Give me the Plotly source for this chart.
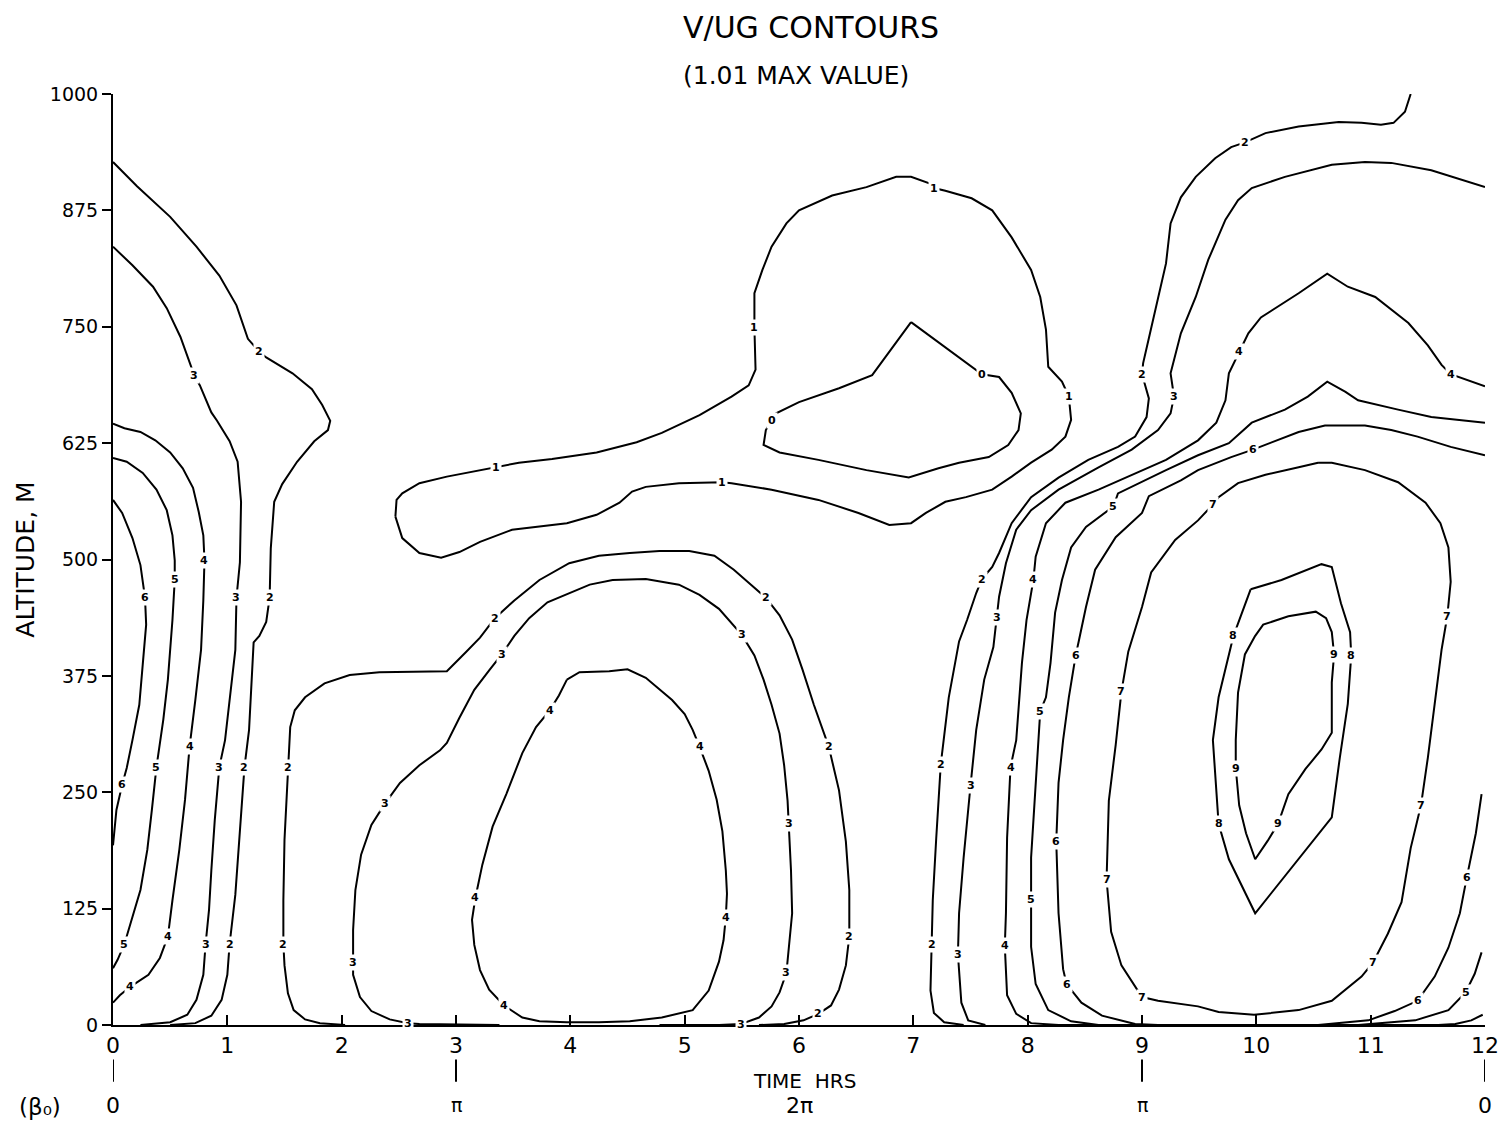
import plotly.graph_objects as go

# ---------------------------------------------------------------
# V/UG contour lines: time (hours) vs altitude (m).
# Each contour: hours list, altitude list, vertex indices carrying a level label.
# ---------------------------------------------------------------

# level 2, left band
c2_left_hr = [0.00, 0.21, 0.50, 0.73, 0.93, 1.08, 1.18, 1.28, 1.34, 1.57, 1.74, 1.83, 1.90, 1.88,
              1.76, 1.61, 1.48, 1.41, 1.38, 1.37, 1.34, 1.28, 1.23, 1.21, 1.19, 1.15, 1.11, 1.07,
              1.02, 1.00, 0.95, 0.86, 0.72, 0.50]
c2_left_alt = [927, 901, 868, 836, 805, 773, 737, 723, 717, 700, 683, 666, 649, 639,
               627, 605, 581, 562, 512, 459, 433, 418, 411, 367, 317, 277, 209, 140,
               87, 54, 27, 10, 2, 0]
c2_left_lab = [7, 19, 25, 28]

# level 3, left band
c3_left_hr = [0.00, 0.17, 0.35, 0.47, 0.59, 0.69, 0.71, 0.76, 0.86, 0.91, 1.02, 1.09, 1.12, 1.11,
              1.08, 1.07, 1.02, 0.98, 0.93, 0.89, 0.86, 0.84, 0.81, 0.79, 0.73, 0.65, 0.50, 0.24]
c3_left_alt = [836, 816, 793, 770, 739, 705, 698, 687, 658, 649, 627, 605, 562, 497,
               459, 403, 349, 306, 277, 220, 166, 124, 87, 54, 27, 11, 3, 0]
c3_left_lab = [6, 14, 18, 22]

# level 4, left band
c4_left_hr = [0.00, 0.10, 0.24, 0.37, 0.50, 0.61, 0.70, 0.75, 0.79, 0.80, 0.79, 0.77, 0.72, 0.67,
              0.63, 0.58, 0.52, 0.48, 0.41, 0.31, 0.15, 0.06, 0.00]
c4_left_alt = [646, 641, 637, 628, 615, 598, 577, 551, 526, 499, 456, 403, 349, 299,
               242, 188, 134, 95, 72, 54, 41, 32, 24]
c4_left_lab = [9, 13, 17, 20]

# level 5, left band
c5_left_hr = [0.00, 0.12, 0.26, 0.38, 0.47, 0.52, 0.54, 0.54, 0.52, 0.48, 0.44, 0.38, 0.34, 0.30,
              0.24, 0.17, 0.10, 0.04, 0.00]
c5_left_alt = [609, 605, 593, 575, 553, 526, 499, 478, 435, 371, 328, 277, 231, 188,
               145, 115, 87, 70, 61]
c5_left_lab = [7, 11, 16]

# level 6, left bulge
c6_left_hr = [0.00, 0.08, 0.17, 0.24, 0.28, 0.29, 0.26, 0.23, 0.17, 0.12, 0.08, 0.03, 0.00]
c6_left_alt = [564, 550, 523, 494, 459, 430, 387, 344, 306, 276, 258, 231, 193]
c6_left_lab = [4, 10]

# level 2, middle column and arch
c2_mid_hr = [2.03, 1.81, 1.68, 1.58, 1.53, 1.50, 1.49, 1.49, 1.50, 1.52, 1.53, 1.55, 1.59, 1.68,
             1.85, 2.07, 2.33, 2.68, 2.92, 3.09, 3.21, 3.34, 3.51, 3.73, 3.99, 4.25, 4.52, 4.78,
             5.04, 5.26, 5.43, 5.58, 5.71, 5.83, 5.94, 6.03, 6.13, 6.26, 6.35, 6.41, 6.44, 6.44,
             6.41, 6.35, 6.28, 6.17, 6.04, 5.87, 5.65]
c2_mid_alt = [0, 2, 6, 16, 34, 64, 87, 134, 199, 252, 277, 320, 338, 352,
              367, 376, 379, 380, 380, 401, 416, 437, 456, 478, 496, 504, 507, 509,
              509, 504, 489, 473, 459, 440, 414, 382, 344, 299, 252, 197, 145, 95,
              64, 38, 21, 12, 5, 1, 0]
c2_mid_lab = [6, 10, 21, 32, 37, 41, 45]

# level 3, arch
c3_arch_hr = [3.38, 2.68, 2.58, 2.42, 2.26, 2.16, 2.10, 2.10, 2.10, 2.12, 2.17, 2.26, 2.38, 2.51,
              2.68, 2.86, 2.92, 3.03, 3.16, 3.29, 3.40, 3.51, 3.64, 3.80, 3.97, 4.17, 4.37, 4.66,
              4.95, 5.13, 5.30, 5.50, 5.61, 5.69, 5.76, 5.83, 5.87, 5.90, 5.91, 5.93, 5.94, 5.91,
              5.89, 5.83, 5.76, 5.65, 5.49, 5.30, 4.78]
c3_arch_alt = [0, 1, 2, 6, 15, 30, 54, 67, 102, 145, 183, 215, 238, 260,
               279, 295, 303, 330, 360, 381, 398, 418, 437, 454, 463, 473, 478, 479,
               473, 462, 447, 419, 397, 371, 344, 313, 279, 241, 216, 166, 120, 81,
               56, 35, 20, 8, 1, 0, 0]
c3_arch_lab = [2, 7, 12, 20, 31, 38, 42, 46]

# level 4, closed cell
c4_cell_hr = [3.97, 4.08, 4.34, 4.50, 4.66, 4.89, 5.00, 5.07, 5.13, 5.21, 5.28, 5.33, 5.36, 5.37,
              5.36, 5.34, 5.30, 5.21, 5.07, 4.80, 4.52, 4.25, 3.97, 3.73, 3.58, 3.42, 3.29, 3.21,
              3.16, 3.14, 3.17, 3.23, 3.32, 3.44, 3.58, 3.70, 3.82, 3.90, 3.97]
c4_cell_alt = [371, 379, 380, 382, 373, 349, 334, 317, 299, 273, 242, 208, 166, 141,
               116, 91, 68, 37, 16, 8, 4, 3, 3, 4, 8, 21, 38, 59,
               86, 113, 137, 172, 213, 248, 292, 320, 338, 354, 371]
c4_cell_lab = [8, 14, 25, 30, 36]

# level 1, closed tongue
c1_cell_hr = [2.47, 2.48, 2.53, 2.68, 2.92, 3.21, 3.35, 3.55, 3.84, 4.23, 4.58, 4.80, 5.13, 5.41,
              5.56, 5.62, 5.61, 5.61, 5.68, 5.76, 5.89, 6.00, 6.29, 6.59, 6.85, 6.98, 7.14, 7.18,
              7.28, 7.51, 7.69, 7.86, 8.03, 8.11, 8.16, 8.18, 8.30, 8.36, 8.38, 8.33, 8.21, 8.03,
              7.86, 7.69, 7.46, 7.28, 7.11, 6.98, 6.79, 6.52, 6.17, 5.76, 5.41, 5.33, 4.95, 4.66,
              4.54, 4.43, 4.23, 3.97, 3.49, 3.21, 3.03, 2.87, 2.68, 2.53, 2.47]
c1_cell_alt = [546, 564, 571, 582, 589, 596, 599, 604, 608, 615, 626, 636, 655, 675,
               687, 704, 749, 786, 811, 836, 861, 875, 891, 900, 911, 911, 904, 899,
               896, 888, 875, 846, 811, 782, 747, 707, 691, 675, 650, 632, 618, 604,
               589, 575, 567, 562, 550, 539, 537, 550, 564, 575, 582, 583, 582, 578,
               573, 561, 548, 539, 532, 519, 508, 502, 507, 523, 546]
c1_cell_lab = [6, 16, 27, 37, 53]

# level 0, closed cell
c0_cell_hr = [6.98, 7.46, 7.60, 7.75, 7.86, 7.94, 7.92, 7.83, 7.66, 7.40, 7.22, 6.96, 6.59, 6.17,
              5.83, 5.69, 5.71, 5.76, 5.80, 6.00, 6.35, 6.64, 6.98]
c0_cell_alt = [755, 712, 699, 696, 679, 657, 639, 623, 610, 604, 598, 588, 596, 607,
               615, 623, 639, 649, 657, 669, 684, 698, 755]
c0_cell_lab = [2, 17]

# level 2, right band
c2_right_hr = [11.35, 11.30, 11.20, 11.09, 10.92, 10.72, 10.37, 10.08, 9.90, 9.78, 9.64, 9.47, 9.34,
               9.25, 9.21, 9.14, 9.07, 9.01, 9.00, 9.06, 9.04, 8.94, 8.79, 8.53, 8.27, 8.03, 7.86,
               7.75, 7.69, 7.60, 7.55, 7.47, 7.40, 7.31, 7.24, 7.20, 7.17, 7.16, 7.15, 7.18, 7.27,
               7.44]
c2_right_alt = [1000, 981, 969, 967, 969, 970, 965, 958, 948, 943, 931, 911, 889,
                861, 818, 782, 743, 711, 699, 673, 653, 632, 621, 607, 588, 567, 539,
                507, 492, 479, 464, 435, 412, 352, 280, 200, 134, 86, 37, 13, 3,
                0]
c2_right_lab = [8, 18, 29, 34, 37]

# level 3, right band
c3_right_hr = [12.00, 11.53, 11.18, 10.95, 10.66, 10.25, 9.96, 9.84, 9.73, 9.58, 9.47, 9.34, 9.25,
               9.28, 9.25, 9.14, 8.91, 8.62, 8.27, 8.03, 7.90, 7.81, 7.75, 7.73, 7.70, 7.62, 7.55,
               7.50, 7.44, 7.40, 7.39, 7.42, 7.48, 7.63]
c3_right_alt = [900, 918, 926, 927, 924, 911, 899, 886, 865, 822, 782, 743, 700,
                675, 657, 639, 618, 599, 575, 553, 532, 496, 460, 438, 406, 371, 317,
                257, 180, 120, 76, 24, 5, 0]
c3_right_lab = [13, 23, 27, 30]

# level 4, right band
c4_right_hr = [12.00, 11.70, 11.62, 11.50, 11.33, 11.04, 10.80, 10.62, 10.37, 10.04, 9.93, 9.85,
               9.76, 9.73, 9.65, 9.49, 9.21, 8.62, 8.33, 8.16, 8.07, 8.05, 7.99, 7.95, 7.90, 7.85,
               7.82, 7.81, 7.80, 7.82, 7.90, 8.03, 8.27, 11.59, 11.74, 11.88, 11.98]
c4_right_alt = [686, 699, 709, 730, 754, 782, 793, 807, 786, 760, 743, 723,
                700, 671, 647, 628, 607, 575, 561, 539, 503, 478, 435, 389, 306, 277,
                201, 120, 85, 32, 12, 2, 0, 0, 1, 5, 11]
c4_right_lab = [1, 11, 21, 25, 28]

# level 5, right band
c5_right_hr = [12.00, 11.53, 11.24, 10.89, 10.78, 10.62, 10.45, 10.25, 9.96, 9.87, 9.76, 9.49,
               9.21, 8.79, 8.75, 8.51, 8.38, 8.30, 8.24, 8.20, 8.16, 8.11, 8.07, 8.03, 8.03, 8.03,
               8.07, 8.18, 8.38, 8.62, 10.89, 11.39, 11.68, 11.83, 11.91, 11.97]
c5_right_alt = [647, 653, 661, 671, 680, 691, 675, 661, 647, 637, 625, 612,
                596, 571, 557, 535, 513, 478, 443, 389, 352, 337, 260, 180, 135, 84,
                44, 16, 4, 0, 0, 5, 16, 35, 55, 78]
c5_right_lab = [14, 21, 24, 33]

# level 6, right band
c6_right_hr = [12.00, 11.70, 11.41, 11.18, 10.95, 10.60, 10.37, 10.08, 9.97, 9.78, 9.49, 9.34,
               9.06, 9.00, 8.77, 8.59, 8.51, 8.45, 8.42, 8.36, 8.31, 8.27, 8.25, 8.27, 8.31, 8.34,
               8.47, 8.65, 8.94, 9.14, 10.54, 10.98, 11.21, 11.41, 11.56, 11.68, 11.78, 11.84,
               11.92, 11.97]
c6_right_alt = [612, 621, 632, 639, 644, 644, 637, 623, 618, 610, 596, 585,
                568, 550, 524, 489, 449, 414, 397, 352, 306, 260, 197, 120, 60, 44,
                24, 10, 1, 0, 0, 5, 15, 26, 52, 83, 120, 158,
                206, 248]
c6_right_lab = [8, 18, 22, 25, 33, 37]

# level 7, closed cell
c7_cell_hr = [10.54, 10.66, 10.95, 11.24, 11.48, 11.61, 11.68, 11.70, 11.67, 11.62, 11.56, 11.50,
              11.44, 11.35, 11.27, 11.15, 11.02, 10.92, 10.66, 10.37, 9.98, 9.67, 9.49, 9.14,
              9.00, 8.82, 8.73, 8.69, 8.71, 8.77, 8.82, 8.88, 9.00, 9.08, 9.29, 9.49, 9.62,
              9.67, 9.84, 10.08, 10.37, 10.54]
c7_cell_alt = [604, 604, 596, 583, 561, 539, 513, 476, 439, 403, 345, 287,
               236, 190, 132, 98, 67, 52, 26, 16, 11, 14, 20, 26,
               30, 64, 100, 156, 241, 301, 358, 401, 449, 486, 521, 542, 559,
               567, 582, 591, 599, 604]
c7_cell_lab = [8, 12, 16, 24, 27, 30, 36]

# level 8, closed cell
c8_cell_hr = [9.95, 10.22, 10.57, 10.66, 10.74, 10.82, 10.83, 10.80, 10.73, 10.66, 9.99, 9.76,
              9.67, 9.64, 9.62, 9.67, 9.80, 9.95]
c8_cell_alt = [468, 478, 495, 492, 453, 422, 397, 345, 287, 223, 120, 178,
               216, 267, 306, 352, 418, 468]
c8_cell_lab = [6, 12, 16]

# level 9, closed cell (maximum)
c9_cell_hr = [9.99, 10.06, 10.28, 10.52, 10.61, 10.66, 10.68, 10.66, 10.66, 10.57, 10.43, 10.28,
              10.19, 10.10, 9.99, 9.91, 9.85, 9.82, 9.82, 9.84, 9.90, 9.99]
c9_cell_alt = [418, 430, 439, 444, 437, 422, 398, 368, 314, 296, 275, 248,
               216, 198, 178, 206, 236, 276, 306, 357, 398, 418]
c9_cell_lab = [6, 12, 17]

# axis ticks
HOUR_TICKS = list(range(13))
ALT_TICKS = [0, 125, 250, 375, 500, 625, 750, 875, 1000]

# solar phase angle row under the time axis
BETA_HOURS = [0, 3, 6, 9, 12]
BETA_TEXT = ["0", "π", "2π", "π", "0"]
BETA_BAR = [True, True, False, True, True]

CONTOURS = [
    (2, c2_left_hr, c2_left_alt, c2_left_lab),
    (3, c3_left_hr, c3_left_alt, c3_left_lab),
    (4, c4_left_hr, c4_left_alt, c4_left_lab),
    (5, c5_left_hr, c5_left_alt, c5_left_lab),
    (6, c6_left_hr, c6_left_alt, c6_left_lab),
    (2, c2_mid_hr, c2_mid_alt, c2_mid_lab),
    (3, c3_arch_hr, c3_arch_alt, c3_arch_lab),
    (4, c4_cell_hr, c4_cell_alt, c4_cell_lab),
    (1, c1_cell_hr, c1_cell_alt, c1_cell_lab),
    (0, c0_cell_hr, c0_cell_alt, c0_cell_lab),
    (2, c2_right_hr, c2_right_alt, c2_right_lab),
    (3, c3_right_hr, c3_right_alt, c3_right_lab),
    (4, c4_right_hr, c4_right_alt, c4_right_lab),
    (5, c5_right_hr, c5_right_alt, c5_right_lab),
    (6, c6_right_hr, c6_right_alt, c6_right_lab),
    (7, c7_cell_hr, c7_cell_alt, c7_cell_lab),
    (8, c8_cell_hr, c8_cell_alt, c8_cell_lab),
    (9, c9_cell_hr, c9_cell_alt, c9_cell_lab),
]

FONT = "DejaVu Sans"
INK = "#000000"

fig = go.Figure()
annotations = []

for level, hrs, alts, lab_idx in CONTOURS:
    fig.add_trace(go.Scatter(
        x=hrs, y=alts, mode="lines",
        line=dict(color=INK, width=2),
        hoverinfo="skip", showlegend=False,
    ))
    for i in lab_idx:
        annotations.append(dict(
            x=hrs[i], y=alts[i], xref="x", yref="y",
            text=str(level), showarrow=False,
            font=dict(family=FONT, size=11, color=INK, weight="bold"),
            bgcolor="white", borderpad=1,
            xanchor="center", yanchor="middle",
        ))

# titles
annotations.append(dict(text="V/UG CONTOURS", x=0.509, y=1.071, xref="paper", yref="paper",
                        showarrow=False, font=dict(family=FONT, size=30, color=INK),
                        xanchor="center", yanchor="middle"))
annotations.append(dict(text="(1.01 MAX VALUE)", x=0.498, y=1.020, xref="paper", yref="paper",
                        showarrow=False, font=dict(family=FONT, size=25, color=INK),
                        xanchor="center", yanchor="middle"))
annotations.append(dict(text="ALTITUDE, M", x=-0.064, y=0.5, xref="paper", yref="paper",
                        textangle=-90, showarrow=False,
                        font=dict(family=FONT, size=25, color=INK),
                        xanchor="center", yanchor="middle"))
annotations.append(dict(text="TIME  HRS", x=0.504, y=-0.060, xref="paper", yref="paper",
                        showarrow=False, font=dict(family=FONT, size=20, color=INK),
                        xanchor="center", yanchor="middle"))
annotations.append(dict(text="(β₀)", x=-0.053, y=-0.088, xref="paper", yref="paper",
                        showarrow=False, font=dict(family=FONT, size=23, color=INK),
                        xanchor="center", yanchor="middle"))

shapes = []
for h, t, bar in zip(BETA_HOURS, BETA_TEXT, BETA_BAR):
    annotations.append(dict(text=t, x=h, y=-0.086, xref="x", yref="paper",
                            showarrow=False,
                            font=dict(family=FONT, size=22 if t != "π" else 19, color=INK),
                            xanchor="center", yanchor="middle"))
    if bar:
        shapes.append(dict(type="line", xref="x", yref="paper", x0=h, x1=h,
                           y0=-0.037, y1=-0.061, line=dict(color=INK, width=2)))

fig.update_layout(
    width=1511, height=1125, autosize=False,
    margin=dict(l=113, r=24, t=94, b=100),
    paper_bgcolor="white", plot_bgcolor="white",
    annotations=annotations, shapes=shapes,
    xaxis=dict(
        range=[0, 12], tickvals=HOUR_TICKS, ticktext=[str(h) for h in HOUR_TICKS],
        ticks="inside", ticklen=10, tickwidth=2, tickcolor=INK,
        showline=True, linewidth=2, linecolor=INK,
        showgrid=False, zeroline=False,
        tickfont=dict(family=FONT, size=22, color=INK),
    ),
    yaxis=dict(
        range=[0, 1000], tickvals=ALT_TICKS, ticktext=[str(a) for a in ALT_TICKS],
        ticks="outside", ticklen=9, tickwidth=2, tickcolor=INK,
        showline=True, linewidth=2, linecolor=INK,
        showgrid=False, zeroline=False,
        tickfont=dict(family=FONT, size=19, color=INK),
    ),
)

fig.write_html("out.html")
